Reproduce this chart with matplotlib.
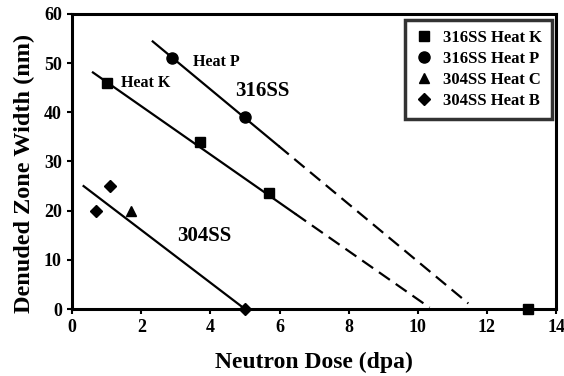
import matplotlib.pyplot as plt
import numpy as np

plt.rcParams['font.family'] = ['Liberation Serif', 'DejaVu Serif']
plt.rcParams['font.weight'] = 'bold'

# measured points
k_dose = [1.0, 3.7, 5.7, 13.2]
k_width = [46, 34, 23.5, 0]
p_dose = [2.9, 5.0]
p_width = [51, 39]
c_dose = [1.7]
c_width = [20]
b_dose = [0.7, 1.1, 5.0]
b_width = [20, 25, 0]

# fitted trend lines: (x start, x end of solid, x end of dashed, y at start, y at dashed end)
k_fit = [0.6, 6.45, 10.34, 48.1, 0.3]
p_fit = [2.33, 5.97, 11.46, 54.4, 1.15]
b_fit = [0.33, 5.0, 25.0, 0.0]

fig = plt.figure(figsize=(5.64, 3.76), dpi=100)
ax = fig.add_axes([0.128, 0.178, 0.858, 0.785])


def fit_y(x0, y0, x1, y1, x):
    return y0 + (y1 - y0) / (x1 - x0) * (x - x0)


for x0, xs, x1, y0, y1 in [k_fit, p_fit]:
    ax.plot([x0, xs], [y0, fit_y(x0, y0, x1, y1, xs)], color='black', lw=1.6)
    ax.plot([xs, x1], [fit_y(x0, y0, x1, y1, xs), y1], color='black', lw=1.6,
            dashes=(6, 3.2))
ax.plot([b_fit[0], b_fit[1]], [b_fit[2], b_fit[3]], color='black', lw=1.6)

ax.plot(k_dose, k_width, 's', color='black', ms=6.5, label='316SS Heat K', clip_on=False)
ax.plot(p_dose, p_width, 'o', color='black', ms=8, label='316SS Heat P', clip_on=False)
ax.plot(c_dose, c_width, '^', color='black', ms=7, label='304SS Heat C', clip_on=False)
ax.plot(b_dose, b_width, 'D', color='black', ms=6.5, label='304SS Heat B', clip_on=False)

ax.text(3.5, 50.3, 'Heat P', fontsize=11.5, fontweight='bold', va='center')
ax.text(1.41, 46.0, 'Heat K', fontsize=11.5, fontweight='bold', va='center')
ax.text(4.71, 44.4, '316SS', fontsize=15, fontweight='bold', va='center')
ax.text(3.03, 14.8, '304SS', fontsize=15, fontweight='bold', va='center')

ax.set_xlim(0, 14)
ax.set_ylim(0, 60)
ax.set_xticks(np.arange(0, 15, 2))
ax.set_yticks(np.arange(0, 61, 10))
ax.tick_params(direction='out', length=3.5, width=1.5, labelsize=13, pad=4)
for lab in ax.get_xticklabels() + ax.get_yticklabels():
    lab.set_fontweight('bold')
for s in ax.spines.values():
    s.set_linewidth(2.2)

ax.set_xlabel('Neutron Dose (dpa)', fontsize=17, fontweight='bold', labelpad=11)
ax.set_ylabel('Denuded Zone Width (nm)', fontsize=17.5, fontweight='bold')
ax.yaxis.set_label_coords(-0.077, 0.459)

leg = ax.legend(loc='upper right', bbox_to_anchor=(0.992, 0.98), frameon=True,
                fancybox=False, handlelength=1.0, handletextpad=0.68,
                borderpad=0.6, labelspacing=0.3, borderaxespad=0,
                prop={'weight': 'bold', 'size': 12})
leg.get_frame().set_edgecolor('black')
leg.get_frame().set_linewidth(2.5)

fig.savefig('out.png', dpi=100)
